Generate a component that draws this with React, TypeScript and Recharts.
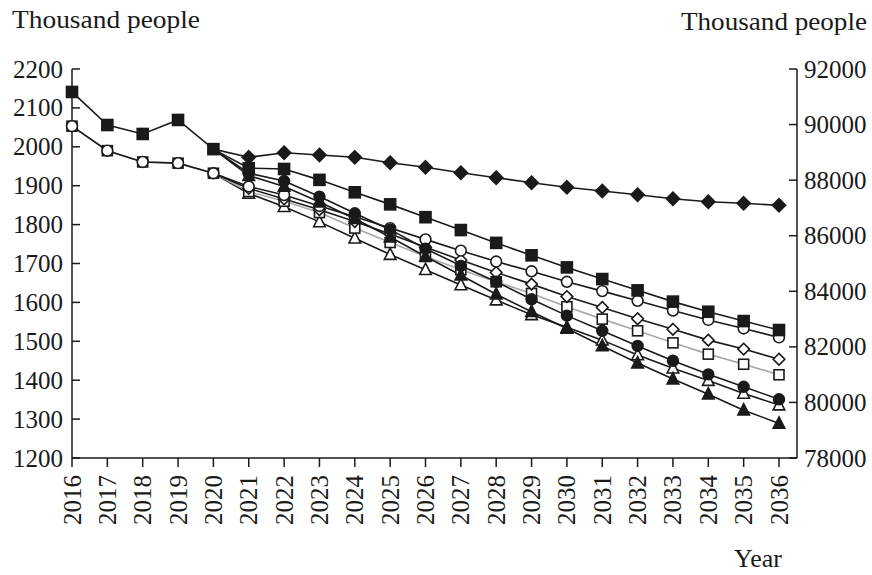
import React from 'react';
import { LineChart, Line, XAxis, YAxis, Customized } from 'recharts';

const years = [2016, 2017, 2018, 2019, 2020, 2021, 2022, 2023, 2024, 2025, 2026, 2027, 2028, 2029, 2030, 2031, 2032, 2033, 2034, 2035, 2036];
const leftTicks = [1200, 1300, 1400, 1500, 1600, 1700, 1800, 1900, 2000, 2100, 2200];
const rightTicks = [78000, 80000, 82000, 84000, 86000, 88000, 90000, 92000];

// left axis series (thousand people)
const filledSquare = [2141, 2056, 2033, 2069, 1994, 1945, 1943, 1915, 1883, 1852, 1819, 1786, 1753, 1721, 1690, 1660, 1631, 1602, 1576, 1552, 1529];
const openCircle = [2053, 1990, 1961, 1958, 1932, 1898, 1876, 1848, 1820, 1791, 1762, 1733, 1705, 1680, 1653, 1629, 1604, 1579, 1555, 1533, 1510];
const filledCircle = [null, null, null, null, 1994, 1932, 1912, 1872, 1829, 1787, 1738, 1694, 1653, 1608, 1566, 1527, 1488, 1450, 1415, 1383, 1351];
const filledTriangle = [null, null, null, null, 1994, 1926, 1898, 1858, 1815, 1768, 1718, 1670, 1621, 1576, 1533, 1488, 1444, 1403, 1364, 1323, 1289];
const openDiamond = [null, null, null, null, 1932, 1893, 1866, 1838, 1808, 1776, 1742, 1709, 1677, 1647, 1615, 1587, 1558, 1531, 1503, 1480, 1454];
const openSquare = [2053, 1990, 1961, 1958, 1932, 1885, 1860, 1831, 1791, 1754, 1718, 1684, 1653, 1623, 1589, 1557, 1527, 1496, 1467, 1441, 1414];
const openTriangle = [null, null, null, null, 1932, 1880, 1846, 1807, 1765, 1723, 1684, 1645, 1606, 1568, 1536, 1503, 1465, 1431, 1399, 1366, 1336];
// right axis series (thousand people)
const filledDiamond = [null, null, null, null, 89116, 88822, 88988, 88905, 88822, 88628, 88462, 88268, 88088, 87908, 87742, 87609, 87476, 87332, 87224, 87166, 87095];

const data = years.map((year, i) => ({
  year,
  filledSquare: filledSquare[i],
  openCircle: openCircle[i],
  filledCircle: filledCircle[i],
  filledTriangle: filledTriangle[i],
  openDiamond: openDiamond[i],
  openSquare: openSquare[i],
  openTriangle: openTriangle[i],
  filledDiamond: filledDiamond[i],
}));

const FONT = '"Liberation Serif", "Times New Roman", serif';
const INK = '#1a1a1a';
const GRAY = '#a8a8a8';
const FS = 25;

type Shape = 'square' | 'circle' | 'diamond' | 'triangle';

function makeDot(shape: Shape, filled: boolean, skipIndex: number) {
  return (props: any) => {
    const { cx, cy, index, value } = props;
    const key = `d-${shape}-${filled ? 'f' : 'o'}-${index}`;
    if (cx == null || cy == null || value == null || index === skipIndex) return <g key={key} />;
    const fill = filled ? INK : '#ffffff';
    const common = { fill, stroke: INK, strokeWidth: 1.6 };
    if (shape === 'square') {
      const s = filled ? 11 : 10;
      return <rect key={key} x={cx - s / 2} y={cy - s / 2} width={s} height={s} {...common} />;
    }
    if (shape === 'circle') {
      return <circle key={key} cx={cx} cy={cy} r={5.4} {...common} />;
    }
    if (shape === 'diamond') {
      const h = filled ? 6.6 : 5.8;
      return <polygon key={key} points={`${cx},${cy - h} ${cx + h},${cy} ${cx},${cy + h} ${cx - h},${cy}`} {...common} />;
    }
    return <polygon key={key} points={`${cx},${cy - 6.5} ${cx + 5.8},${cy + 4.8} ${cx - 5.8},${cy + 4.8}`} {...common} />;
  };
}

const LeftTick = (props: any) => {
  const { x, y, payload } = props;
  return (
    <g>
      <line x1={x} y1={y} x2={x + 8} y2={y} stroke={INK} strokeWidth={1.5} />
      <text x={x - 9} y={y} textAnchor="end" dominantBaseline="central" fontFamily={FONT} fontSize={FS} fill={INK}>
        {payload.value}
      </text>
    </g>
  );
};

const RightTick = (props: any) => {
  const { x, y, payload } = props;
  return (
    <g>
      <line x1={x - 8} y1={y} x2={x} y2={y} stroke={INK} strokeWidth={1.5} />
      <text x={x + 7} y={y} textAnchor="start" dominantBaseline="central" fontFamily={FONT} fontSize={FS} fill={INK}>
        {payload.value}
      </text>
    </g>
  );
};

const BottomTick = (props: any) => {
  const { x, y, payload } = props;
  return (
    <g>
      <line x1={x} y1={y} x2={x} y2={y + 9} stroke={INK} strokeWidth={1.5} />
      <text
        x={x}
        y={y + 17}
        transform={`rotate(-90, ${x}, ${y + 17})`}
        textAnchor="end"
        dominantBaseline="central"
        fontFamily={FONT}
        fontSize={FS}
        fill={INK}
      >
        {payload.value}
      </text>
    </g>
  );
};

const Titles = () => (
  <g fontFamily={FONT} fill={INK}>
    <text x={12} y={28} fontSize={26} textLength={188} lengthAdjust="spacingAndGlyphs">Thousand people</text>
    <text x={867} y={30} fontSize={26} textAnchor="end" textLength={186} lengthAdjust="spacingAndGlyphs">Thousand people</text>
    <text x={758} y={567} fontSize={26} textAnchor="middle">Year</text>
  </g>
);

const lineProps = { type: 'linear' as const, isAnimationActive: false, strokeWidth: 1.6, activeDot: false as const };

export default function App() {
  return (
    <div style={{ position: 'absolute', left: 0, top: 0, width: 872, height: 575, background: '#fff' }}>
      <LineChart width={872} height={575} data={data} margin={{ top: 69, right: 0, bottom: 57, left: 0 }}>
        <XAxis
          dataKey="year"
          type="category"
          interval={0}
          padding={{ left: 0, right: 18 }}
          height={60}
          tickSize={0}
          tickMargin={0}
          tick={<BottomTick />}
          tickLine={false}
          axisLine={{ stroke: INK, strokeWidth: 1.5 }}
        />
        <YAxis
          yAxisId="left"
          orientation="left"
          width={72}
          domain={[1200, 2200]}
          ticks={leftTicks}
          interval={0}
          tickSize={0}
          tickMargin={0}
          tick={<LeftTick />}
          tickLine={false}
          axisLine={{ stroke: INK, strokeWidth: 1.5 }}
        />
        <YAxis
          yAxisId="right"
          orientation="right"
          width={75}
          domain={[78000, 92000]}
          ticks={rightTicks}
          interval={0}
          tickSize={0}
          tickMargin={0}
          tick={<RightTick />}
          tickLine={false}
          axisLine={{ stroke: INK, strokeWidth: 1.5 }}
        />
        <Line {...lineProps} yAxisId="left" dataKey="openTriangle" stroke={INK} dot={makeDot('triangle', false, 4)} />
        <Line {...lineProps} yAxisId="left" dataKey="openSquare" stroke={GRAY} dot={makeDot('square', false, -1)} />
        <Line {...lineProps} yAxisId="left" dataKey="openDiamond" stroke={INK} dot={makeDot('diamond', false, 4)} />
        <Line {...lineProps} yAxisId="left" dataKey="openCircle" stroke={INK} dot={makeDot('circle', false, -1)} />
        <Line {...lineProps} yAxisId="left" dataKey="filledTriangle" stroke={INK} dot={makeDot('triangle', true, 4)} />
        <Line {...lineProps} yAxisId="left" dataKey="filledCircle" stroke={INK} dot={makeDot('circle', true, 4)} />
        <Line {...lineProps} yAxisId="right" dataKey="filledDiamond" stroke={INK} dot={makeDot('diamond', true, 4)} />
        <Line {...lineProps} yAxisId="left" dataKey="filledSquare" stroke={INK} dot={makeDot('square', true, -1)} />
        <Customized component={Titles} />
      </LineChart>
    </div>
  );
}
